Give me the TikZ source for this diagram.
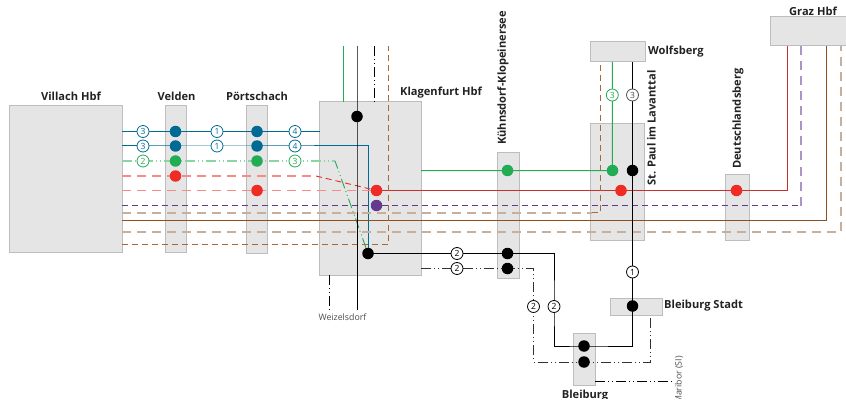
\documentclass[tikz,border=0pt]{standalone}
\usepackage{fontspec}
\setmainfont{Open Sans}
\pgfdeclarelayer{boxes}
\pgfdeclarelayer{lines}
\pgfsetlayers{boxes,lines,main}
\definecolor{cblue}{HTML}{006A94}
\definecolor{cgreen}{HTML}{22AC54}
\definecolor{cgreenl}{HTML}{8AD6A2}
\definecolor{cred}{HTML}{EE2B24}
\definecolor{credd}{HTML}{C8302A}
\definecolor{credl}{HTML}{F58C86}
\definecolor{cpurple}{HTML}{643A8E}
\definecolor{cpurplel}{HTML}{AC94C6}
\definecolor{cbrown}{HTML}{8F4E1C}
\definecolor{cbrownd}{HTML}{A8683A}
\definecolor{ctan}{HTML}{C9AF9A}
\definecolor{cgrayb}{HTML}{BDBDBD}
\definecolor{cfill}{HTML}{E5E5E5}
\definecolor{ctxt}{HTML}{222222}
\tikzset{
  x=1pt,y=-1pt,
  box/.style={draw=cgrayb,fill=cfill,line width=1pt,inner sep=0pt,outer sep=0pt},
  dot/.style={circle,fill=#1,draw=none,minimum size=11.5pt,inner sep=0pt},
  num/.style={circle,fill=white,draw=#1,line width=.8pt,minimum size=12pt,inner sep=0pt,text=#1,font=\fontsize{8.5}{8.5}\selectfont},
  title/.style={font=\bfseries\fontsize{11.1}{13}\selectfont,text=ctxt,inner sep=0pt},
  small/.style={font=\fontsize{8.8}{10}\selectfont,text=black!70,inner sep=0pt},
  ln/.style={line width=1pt},
  dashsl/.style={line width=1pt,dash pattern=on 6pt off 4pt},
  dashth/.style={line width=1.6pt,dash pattern=on 9pt off 6pt},
  ddot/.style={line width=1pt,dash pattern=on 10pt off 3pt on 1pt off 3pt on 1pt off 3pt},
}
\begin{document}
\begin{tikzpicture}
\useasboundingbox (0,0) rectangle (846,401);
\clip (0,0) rectangle (846,398);
% stations
\begin{pgfonlayer}{boxes}
\node[box,minimum width=113pt,minimum height=146pt] (villach) at (65.5,179) {};
\node[box,minimum width=21pt,minimum height=146pt] (velden) at (175.5,179) {};
\node[box,minimum width=21pt,minimum height=147pt] (poert) at (256.5,179.5) {};
\node[box,minimum width=101.5pt,minimum height=173pt] (klag) at (370.25,188.5) {};
\node[box,minimum width=22pt,minimum height=125pt] (kuehn) at (508,215.5) {};
\node[box,minimum width=54pt,minimum height=116pt] (paul) at (617,182) {};
\node[box,minimum width=55pt,minimum height=20pt] (wolf) at (617.5,52) {};
\node[box,minimum width=24pt,minimum height=66pt] (deutsch) at (737,207) {};
\node[box,minimum width=90pt,minimum height=29pt] (graz) at (815,31.5) {};
\node[box,minimum width=52pt,minimum height=17pt] (bstadt) at (636,306.5) {};
\node[box,minimum width=22pt,minimum height=52pt] (bleib) at (584,359) {};
\end{pgfonlayer}
% labels
\node[title] (lv) at (71,96) {Villach Hbf};
\node[title] (lve) at (176.5,96) {Velden};
\node[title] (lp) at (257,96) {Pörtschach};
\node[title,anchor=west] (lk) at (400,92.5) {Klagenfurt Hbf};
\node[title,rotate=90,anchor=west] (lku) at (503,145) {Kühnsdorf-Klopeinersee};
\node[title,rotate=90,anchor=west] (lsp) at (651.5,186) {St. Paul im Lavanttal};
\node[title,anchor=west] (lw) at (648,52) {Wolfsberg};
\node[title,rotate=90,anchor=west] (ld) at (738,169) {Deutschlandsberg};
\node[title] (lg) at (813,11.5) {Graz Hbf};
\node[title,anchor=west] (lb) at (664,306) {Bleiburg Stadt};
\node[title,anchor=base] (lbl) at (585,398) {Bleiburg};
\node[small] (lwz) at (342.5,317) {Weizelsdorf};
\node[small,rotate=90,anchor=east] (lm) at (679,356) {Maribor (SI)};
% dots
\node[dot=cblue] (v1) at (175.5,131.5) {};
\node[dot=cblue] (v2) at (175.5,146) {};
\node[dot=cgreen] (v3) at (175.5,161) {};
\node[dot=cred] (v4) at (175.5,176) {};
\node[dot=cblue] (p1) at (257,131.5) {};
\node[dot=cblue] (p2) at (257,146) {};
\node[dot=cgreen] (p3) at (257,161) {};
\node[dot=cred] (p4) at (257,190.5) {};
\node[dot=black] (k1) at (357,116.5) {};
\node[dot=cred] (k2) at (376.5,190.5) {};
\node[dot=cpurple] (k3) at (376.5,205.5) {};
\node[dot=black] (k4) at (368,253.5) {};
\node[dot=cgreen] (ku1) at (507.5,170.5) {};
\node[dot=black] (ku2) at (507.5,253.5) {};
\node[dot=black] (ku3) at (507.5,268.5) {};
\node[dot=cgreen] (s1) at (612.5,170.5) {};
\node[dot=black] (s2) at (632.5,170.5) {};
\node[dot=cred] (s3) at (621,190.5) {};
\node[dot=cred] (d1) at (736.5,190.5) {};
\node[dot=black] (b1) at (632.5,306) {};
\node[dot=black] (b2) at (584,346) {};
\node[dot=black] (b3) at (584,362) {};
% numbered circles
\node[num=cblue] (n1) at (143,131.5) {3};
\node[num=cblue] (n2) at (143,146) {3};
\node[num=cgreen] (n3) at (143,161) {2};
\node[num=cblue] (n4) at (217,131.5) {1};
\node[num=cblue] (n5) at (217,146) {1};
\node[num=cblue] (n6) at (295,131.5) {4};
\node[num=cblue] (n7) at (295,146) {4};
\node[num=cgreen] (n8) at (295,161) {3};
\node[num=black] (n9) at (457,253.5) {2};
\node[num=black] (n10) at (457,268.5) {2};
\node[num=black] (n11) at (533.5,306.5) {2};
\node[num=black] (n12) at (554,306.5) {2};
\node[num=black] (n13) at (632.5,272) {1};
\node[num=cgreen] (n14) at (612.3,95) {3};
\node[num=black!70] (n15) at (632.5,95) {3};
% free ends
\coordinate (gt) at (343.5,46);
\coordinate (bkt) at (357,46);
\coordinate (bkb) at (357,310);
\coordinate (ddt) at (374.5,46);
\coordinate (brt) at (388.5,46);
\coordinate (wz) at (329.5,310);
\coordinate (grb1) at (333,161);
\coordinate (rdb1) at (316,176);
\coordinate (m1) at (673,381);
\begin{pgfonlayer}{lines}
\draw[ln,cblue] (villach.east |- v1.center) -- (v1.center) -- (p1.center) -- (klag.west |- p1.center);
\draw[ln,cblue] (villach.east |- v2.center) -- (v2.center) -- (p2.center) -- (p2.center -| k4.center) -- (k4.center);
\draw[ddot,cgreenl,line width=1.4pt] (villach.east |- v3.center) -- (v3.center) -- (p3.center) -- (grb1);
\draw[ddot,cgreen,line width=.9pt] (grb1) -- (335,161) -- (k4.center);
\draw[dashth,credl] (villach.east |- v4.center) -- (v4.center) -- (rdb1);
\draw[dashsl,cred,line width=.9pt] (rdb1) -- (k2.center);
\draw[dashth,credl] (villach.east |- k2.center) -- (p4.center) -- (k2.center);
\draw[ln,credd] (k2.center) -- (s3.center) -- (d1.center) -- (787,190.5) -- (787,46);
\draw[dashsl,cpurple] (villach.east |- k3.center) -- (k3.center) -- (801,205.5);
\draw[dashth,cpurplel] (801,205.5) -- (801,46);
\draw[dashth,ctan] (villach.east |- 0,212.7) -- (592,212.7);
\draw[dashsl,cbrownd] (592,212.7) -- (600.3,212.7) -- (600.3,62);
\draw[ln,cbrown] (villach.east |- 0,220.5) -- (826,220.5) -- (826,46);
\draw[dashth,ctan] (villach.east |- 0,231.7) -- (841,231.7) -- (841,46);
\draw[dashsl,cbrownd] (villach.east |- 0,244.3) -- (388.5,244.3) -- (brt);
\draw[ln,cgreen] (gt) -- (gt |- klag.north);
\draw[ln,black] (bkt) -- (k1.center) -- (bkb);
\draw[ddot,black] (ddt) -- (ddt |- klag.north);
\draw[ddot,black] (klag.south -| wz) -- (wz);
\draw[ln,cgreen] (klag.east |- ku1.center) -- (ku1.center) -- (s1.center) -- (n14.center) -- (wolf.south -| n14.center);
\draw[ln,black] (k4.center) -- (ku2.center) -- (554,253.5) -- (n12.center) -- (554,346) -- (b2.center) -- (632.5,346) -- (b1.center) -- (n13.center) -- (s2.center) -- (n15.center) -- (wolf.south -| n15.center);
\draw[ddot,black!80] (klag.east |- ku3.center) -- (ku3.center) -- (533.5,268.5) -- (n11.center) -- (533.5,362) -- (b3.center) -- (650.5,362) -- (650.5,315);
\draw[ddot,black] (bleib.east |- m1) -- (m1);
\end{pgfonlayer}
\end{tikzpicture}
\end{document}
